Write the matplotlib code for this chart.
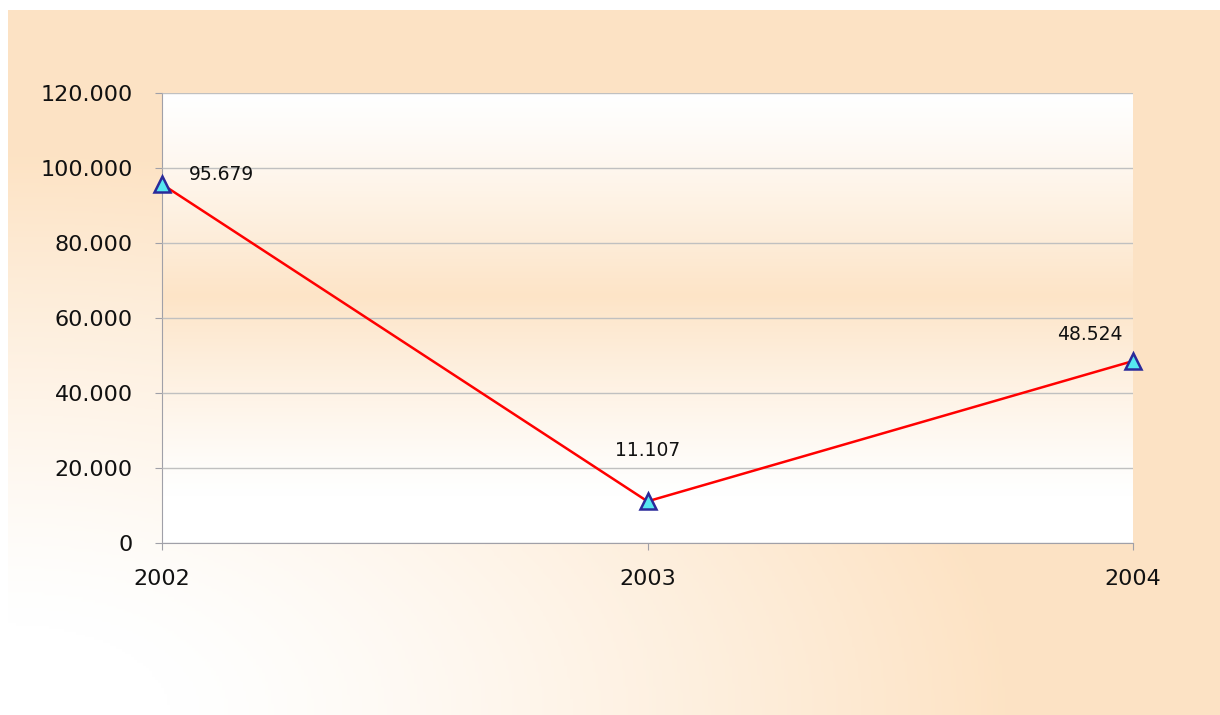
import numpy as np
import matplotlib.pyplot as plt
from matplotlib.colors import LinearSegmentedColormap
from matplotlib.ticker import FuncFormatter

years = ['2002', '2003', '2004']
values = [95679, 11107, 48524]
value_labels = ['95.679', '11.107', '48.524']
y_ticks = [0, 20000, 40000, 60000, 80000, 100000, 120000]

peach = (0.992, 0.890, 0.770)

fig = plt.figure(figsize=(12.2, 7.15), dpi=100)
fig.patch.set_facecolor('white')

# outer frame: white near the bottom-left corner, peach elsewhere
bg = fig.add_axes([8 / 1220, 0, 1 - 8 / 1220, 1 - 10 / 715])
bg.set_axis_off()
xx, yy = np.meshgrid(np.linspace(0, 1212, 400), np.linspace(0, 705, 250))
d = np.sqrt((xx / 1000) ** 2 + (yy / 560) ** 2)
t = np.clip((d - 0.15) / 0.85, 0, 1) ** 1.3
cmap_bg = LinearSegmentedColormap.from_list('bg', ['white', peach])
bg.imshow(t, cmap=cmap_bg, aspect='auto', extent=[0, 1, 0, 1], origin='lower', vmin=0, vmax=1)

# plot area
L, R, T, B = 162, 1133, 93, 543
ax = fig.add_axes([L / 1220, 1 - B / 715, (R - L) / 1220, (B - T) / 715])
ax.set_xlim(0, 2)
ax.set_ylim(0, 120000)
ax.set_zorder(2)

# vertical gradient inside the plot area
gy = np.linspace(0, 1, 300).reshape(-1, 1)
g = np.clip(1 - np.abs(gy - 0.55) / 0.45, 0, 1) ** 1.2
cmap_pa = LinearSegmentedColormap.from_list('pa', ['white', peach])
ax.imshow(g, cmap=cmap_pa, aspect='auto', extent=[0, 2, 0, 120000], origin='lower',
          vmin=0, vmax=1.05, zorder=0)

x = np.arange(len(years))
ax.plot(x, values, color='#ff0000', lw=1.8, zorder=3, clip_on=False)
ax.plot(x, values, linestyle='none', marker='^', ms=12, mfc='#55e8f0', mec='#2a2a9a',
        mew=1.8, zorder=4, clip_on=False)

offsets = [(19, 0), (0, 30), (-55, 12)]
aligns = ['left', 'center', 'left']
for xi, v, lab, off, ha in zip(x, values, value_labels, offsets, aligns):
    ax.annotate(lab, (xi, v), xytext=off, textcoords='offset points', ha=ha, va='bottom',
                fontsize=13.5, color='#111111', zorder=5)

ax.set_yticks(y_ticks)
ax.yaxis.set_major_formatter(FuncFormatter(lambda v, p: f'{int(v):,}'.replace(',', '.')))
ax.set_xticks(x)
ax.set_xticklabels(years)
ax.grid(axis='y', color='#c0c0c0', lw=1)
ax.set_axisbelow(False)
for s in ['top', 'right']:
    ax.spines[s].set_visible(False)
for s in ['left', 'bottom']:
    ax.spines[s].set_color('#a0a0a8')
ax.tick_params(axis='both', colors='#a0a0a8', labelcolor='#111111', labelsize=16, length=5)
ax.tick_params(axis='x', pad=14)
ax.tick_params(axis='y', pad=16)

fig.savefig('out.png', dpi=100)
